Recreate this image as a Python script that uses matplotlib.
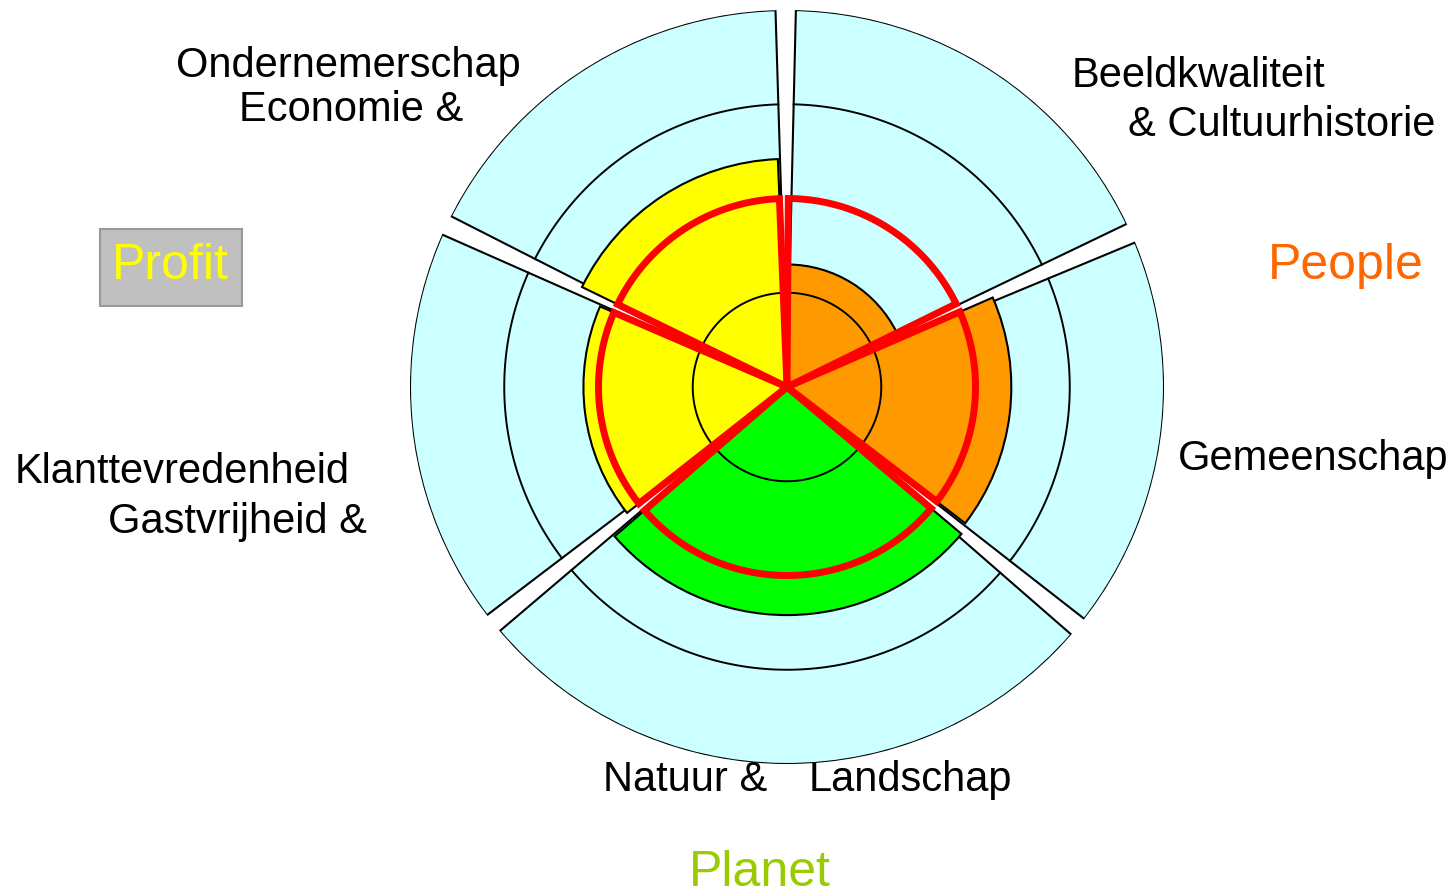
import matplotlib
matplotlib.use("Agg")

import matplotlib.pyplot as plt  # noqa: E402
import numpy as np               # noqa: E402
from matplotlib.patches import Rectangle  # noqa: E402

# ─── Data ────────────────────────────────────────────────────────────────────
# sectors go counter-clockwise starting at the gap right of "Gemeenschap"
categories = [
    "Beeldkwaliteit & Cultuurhistorie",
    "Economie & Ondernemerschap",
    "Gastvrijheid & Klanttevredenheid",
    "Natuur & Landschap",
    "Gemeenschap",
]
start_deg = 24.1
sector_deg = [66.1, 64.4, 64.2, 101.7, 63.6]
scores = [1.30, 2.42, 2.16, 2.42, 2.38]
target = [2.0, 2.0, 2.0, 2.0, 2.0]
score_colors = ["#FF9900", "#FFFF00", "#FFFF00", "#00FF00", "#FF9900"]
rings = [1, 2, 3]
r_max = 4

# ─── Figure / layout ─────────────────────────────────────────────────────────
W, H = 1454, 895
plt.rcParams["font.family"] = ["Liberation Sans", "DejaVu Sans"]
fig = plt.figure(figsize=(W / 100, H / 100), dpi=100)

cx, cy, rad = 787, 388, 377  # pixel centre and outer radius of the wheel
ax = fig.add_axes([(cx - rad) / W, (H - cy - rad) / H, 2 * rad / W, 2 * rad / H],
                  projection="polar")
ax.set_ylim(0, r_max)
ax.set_axis_off()

CYAN_INSET = 1.55   # degrees of white gap on each side of the background wedge
LO_INSET = 2.1      # score wedge / red line inset at the low-angle side
HI_INSET = 0.6      # ... and at the high-angle side

edges = start_deg + np.concatenate([[0], np.cumsum(sector_deg)])
for i, cat in enumerate(categories):
    lo, hi = edges[i], edges[i + 1]

    # background wedge
    c0, c1 = np.radians(lo + CYAN_INSET), np.radians(hi - CYAN_INSET)
    ax.bar((c0 + c1) / 2, r_max, width=c1 - c0, bottom=0, color="#CCFFFF",
           edgecolor="black", linewidth=1.5, zorder=1)

    # score wedge
    s0, s1 = np.radians(lo + LO_INSET), np.radians(hi - HI_INSET)
    ax.bar((s0 + s1) / 2, scores[i], width=s1 - s0, bottom=0,
           color=score_colors[i], edgecolor="black", linewidth=1.5, zorder=2)

    # ring arcs inside the sector
    t = np.linspace(c0, c1, 120)
    for r in rings:
        ax.plot(t, np.full_like(t, r), color="black", lw=1.4, zorder=3)

    # red target outline
    ta = np.linspace(s0, s1, 120)
    th = np.concatenate([[s0], ta, [s1]])
    rr = np.concatenate([[0], np.full_like(ta, target[i]), [0]])
    ax.plot(th, rr, color="#FF0000", lw=5, solid_joinstyle="miter",
            zorder=4)


def px(x, y):
    return x / W, 1 - y / H


# ─── Labels ──────────────────────────────────────────────────────────────────
label_size = 30
fig.text(*px(348, 77), "Ondernemerschap", ha="center", va="baseline",
         fontsize=label_size)
fig.text(*px(351, 121), "Economie &", ha="center", va="baseline",
         fontsize=label_size)
fig.text(*px(1072, 87), "Beeldkwaliteit", ha="left", va="baseline",
         fontsize=label_size)
fig.text(*px(1128, 136), "& Cultuurhistorie", ha="left", va="baseline",
         fontsize=label_size)
fig.text(*px(15, 483), "Klanttevredenheid", ha="left", va="baseline",
         fontsize=label_size)
fig.text(*px(108, 533), "Gastvrijheid &", ha="left", va="baseline",
         fontsize=label_size)
fig.text(*px(603, 791), "Natuur &", ha="left", va="baseline",
         fontsize=label_size)
fig.text(*px(809, 791), "Landschap", ha="left", va="baseline",
         fontsize=label_size)
fig.text(*px(1178, 470), "Gemeenschap", ha="left", va="baseline",
         fontsize=label_size)

# pillar labels
group_size = 36
fig.patches.append(Rectangle(px(100, 307), 142 / W, 77 / H,
                             transform=fig.transFigure, facecolor="#C0C0C0",
                             edgecolor="#999999", linewidth=1.5))
fig.text(*px(170, 279), "Profit", ha="center", va="baseline",
         fontsize=group_size, color="#FFFF00")
fig.text(*px(1346, 279), "People", ha="center", va="baseline",
         fontsize=group_size, color="#FF6600")
fig.text(*px(760, 886), "Planet", ha="center", va="baseline",
         fontsize=group_size, color="#99CC00")

fig.savefig("out.png", dpi=100)
plt.close(fig)
